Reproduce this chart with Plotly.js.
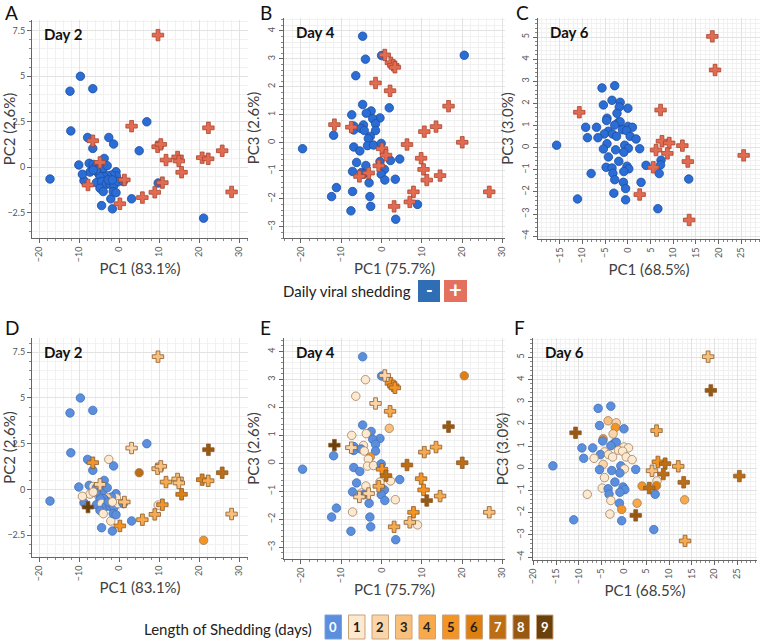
<!DOCTYPE html>
<html><head><meta charset="utf-8">
<script src="https://cdn.plot.ly/plotly-3.0.1.min.js"></script>
<style>html,body{margin:0;padding:0;background:#fff;}#chart{width:760px;height:642px;}</style>
</head><body><div id="chart"></div>
<script>
// ---------- DATA ----------
// Day 2 (PC1 vs PC2)
const day2_pc1 = [-9.7,-12.3,-6.6,-12.1,6.9,-7.9,-2.6,-1.4,-6.6,5.0,-10.1,-3.75,-17.3,-8.8,9.75,3.1,-4.4,-2.1,-1.7,21.1,-7.5,-6.5,-5.7,-4.8,-7.3,-5.2,-4.0,-3.0,-0.8,-0.7,-1.9,-3.0,-3.8,-4.8,-5.7,-4.4,-3.3,-2.3,-1.3,-0.25,1.0,-4.8,-4.0,-1.5,-0.8,-5.7,-6.5,-2.75,-1.7,-9.2,
  9.7,3.1,22.3,-6.6,9.6,10.4,25.75,11.7,14.6,14.9,20.75,22.25,15.6,-4.8,1.3,10.8,-7.8,8.9,5.8,0.17,28.1];
const day2_pc2 = [5.0,4.18,4.32,2.0,2.5,1.64,1.64,1.28,1.04,0.91,0.13,0.49,-0.64,-0.73,-0.86,-1.73,-2.1,-1.73,-2.28,-2.79,0.22,0.16,0.09,0.13,-0.26,-0.33,-0.05,0.09,-0.24,-0.47,-0.42,-0.46,-0.51,-0.51,-0.84,-0.78,-0.93,-0.93,-0.99,-0.78,-0.78,-1.15,-1.33,-1.33,-1.39,-0.15,-0.15,-0.69,-0.69,-0.38,
  7.26,2.26,2.17,1.46,1.13,1.26,0.91,0.4,0.57,0.35,0.53,0.47,-0.27,0.27,-0.69,-0.84,-0.97,-1.37,-1.66,-2.0,-1.35];
const day2_shed = [0,0,0,0,0,0,0,0,0,0,0,0,0,0,0,0,0,0,0,0,0,0,0,0,0,0,0,0,0,0,0,0,0,0,0,0,0,0,0,0,0,0,0,0,0,0,0,0,0,0,
  1,1,1,1,1,1,1,1,1,1,1,1,1,1,1,1,1,1,1,1,1];
const day2_len = [0,0,0,0,0,0,1,0,0,7,0,0,0,0,1,0,0,1,0,5,0,1,0,2,1,1,0,0,0,1,0,2,0,0,0,1,0,0,0,1,0,0,1,0,0,0,1,0,1,1,
  3,2,8,5,3,3,7,4,3,3,6,4,6,2,3,5,9,4,4,5,3];

// Day 4 (PC1 vs PC3)
const day4_pc1 = [-4.7,0,-4.0,-6.4,20.5,-4.7,1.9,-7.4,-2.6,-3.8,-0.4,-2.2,-1.5,-4.5,-6.9,-6.9,-5.1,-4.3,-1.5,-2.8,-3.3,-11.9,-19.6,-6.9,-5.4,-3.5,-2.0,-0.1,-6.2,2.2,4.5,-3.9,-0.4,0.7,-7.2,-5.0,-4.5,-0.1,0.8,3.4,-3.1,-11.2,-12.4,-7.2,-2.9,-2.7,8.9,-7.6,3.5,
  0.8,2.3,2.9,3.3,-1.5,2.1,16.6,-11.7,13.5,10.6,6.3,20.0,0.1,1.1,-0.7,9.8,10.4,14.5,11.2,-3.2,-5.5,7.9,7.0,3.1,26.7,-7.5];
const day4_pc3 = [3.81,3.12,2.99,2.40,3.13,1.37,1.25,1.0,1.14,1.06,0.89,0.86,0.68,0.64,0.6,0.46,0.51,0.44,0.44,0.23,0.15,0.27,-0.21,-0.15,-0.29,-0.1,-0.08,-0.02,-0.70,-0.63,-0.58,-0.81,-0.67,-0.95,-1.02,-1.06,-1.12,-1.12,-1.33,-1.30,-1.43,-1.6,-1.92,-1.74,-1.92,-2.27,-2.20,-2.43,-2.73,
  3.14,2.86,2.77,2.70,2.14,1.86,1.31,0.65,0.58,0.40,-0.06,0.02,-0.21,-0.44,-0.82,-0.55,-0.95,-1.17,-1.33,-1.08,-1.2,-1.75,-2.11,-2.27,-1.75,0.56];
const day4_shed = [0,0,0,0,0,0,0,0,0,0,0,0,0,0,0,0,0,0,0,0,0,0,0,0,0,0,0,0,0,0,0,0,0,0,0,0,0,0,0,0,0,0,0,0,0,0,0,0,0,
  1,1,1,1,1,1,1,1,1,1,1,1,1,1,1,1,1,1,1,1,1,1,1,1,1,1];
const day4_len = [0,0,1,1,6,0,3,1,0,1,0,0,0,1,0,0,0,1,0,5,1,0,0,0,0,1,1,0,0,1,0,1,1,0,0,1,0,0,0,1,0,0,0,1,0,0,1,0,0,
  2,5,5,5,2,4,8,9,4,4,7,7,5,7,4,5,5,4,8,2,2,5,3,4,3,2];

// Day 6 (PC1 vs PC3)
const day6_pc1 = [-5.7,-2.9,-3.5,-5.4,-1.7,-1.9,0,-2.4,-4.6,-4.7,-2.1,-1.7,-2.9,-9.3,-6.9,0,1.0,-1.2,-0.3,-4.3,-5.2,-3.4,-2.5,-8.9,-6.6,0.5,1.8,-4.6,-5.4,-0.7,0.1,-2.7,2.6,-0.9,-4.3,-15.7,-2.0,-4.8,-3.5,-0.2,0.2,4.0,7.3,7.2,6.9,-0.9,-3.3,-2.9,-8.1,-1.0,2.9,13.4,-3.1,-0.5,-11.1,-0.5,6.6,
  18.6,19.2,7.2,-10.7,7.5,9.1,12.0,6.2,8.7,13.2,25.5,5.6,2.6,13.5];
const day6_pc3 = [2.70,2.80,2.14,1.93,2.05,1.84,1.78,1.55,1.33,1.23,1.14,1.17,1.02,0.92,0.92,0.96,0.92,0.81,0.77,0.74,0.62,0.62,0.51,0.45,0.45,0.51,0.39,0.18,-0.06,0.11,-0.03,-0.1,-0.05,-0.21,-0.42,0.11,-0.62,-0.89,-0.92,-0.84,-0.96,-0.80,-0.57,-0.78,-1.17,-1.08,-1.16,-1.45,-1.17,-1.57,-1.57,-1.42,-2.06,-1.85,-2.32,-2.36,-2.76,
  5.03,3.51,1.70,1.60,0.29,0.21,0.09,-0.11,-0.26,-0.63,-0.35,-0.89,-2.12,-3.27];
const day6_shed = [0,0,0,0,0,0,0,0,0,0,0,0,0,0,0,0,0,0,0,0,0,0,0,0,0,0,0,0,0,0,0,0,0,0,0,0,0,0,0,0,0,0,0,0,0,0,0,0,0,0,0,0,0,0,0,0,0,
  1,1,1,1,1,1,1,1,1,1,1,1,1,1];
const day6_len = [0,0,3,0,2,5,0,2,5,0,0,0,0,0,0,1,1,1,1,1,0,1,1,0,1,1,1,2,0,0,1,0,0,0,1,0,0,1,0,0,0,5,1,6,0,0,0,1,1,0,4,4,1,5,0,0,0,
  3,8,4,8,5,7,4,3,7,7,7,7,8,4];

const xTitles = ['PC1 (83.1%)','PC1 (75.7%)','PC1 (68.5%)'];
const yTitles = ['PC2 (2.6%)','PC3 (2.6%)','PC3 (3.0%)'];
const dayLabels = ['Day 2','Day 4','Day 6'];
const panelLetters = ['A','B','C','D','E','F'];
const lengthCats = ['0','1','2','3','4','5','6','7','8','9'];

// ---------- STYLE ----------
const W = 760, H = 642;
const FONT = 'Lato, "Open Sans", "Noto Sans", sans-serif';
const lenColors = ['#5b8fde','#fde8d0','#fbd5a9','#f9c07c','#f7a94b','#f39424','#df7f10','#bd6d13','#985812','#6a400d'];
const lenText   = ['#ffffff','#222','#222','#222','#222','#222','#222','#ffffff','#ffffff','#ffffff'];
const blueCol = '#2b6dd6', blueLine = '#1c4d9c';
const redCol = '#e26b52', redLine = '#a9452f';

function px(x){ return x / W; }
function py(y){ return 1 - y / H; }

// plot areas in pixel coordinates [left,right,top,bottom]
const boxes = [
  [32,248,20,238],[284,505,18,238],[538,760,18,239],
  [32,248,338,557],[284,505,338,559],[533,757,338,560]
];
const xRanges = [[-21.8,32.2],[-24.2,30.6],[-19.8,29.1],[-21.8,32.2],[-24.2,30.6],[-20.1,29.4]];
const yRanges = [[-3.88,8.09],[-3.4,4.46],[-4.13,5.86],[-3.7,8.28],[-3.42,4.48],[-4.13,5.87]];
const xTick = [[10,2],[10,2],[5,1]];
const yTick = [[2.5,0.5],[1,0.2],[1,0.2]];

const days = [
  {x:day2_pc1, y:day2_pc2, s:day2_shed, l:day2_len},
  {x:day4_pc1, y:day4_pc3, s:day4_shed, l:day4_len},
  {x:day6_pc1, y:day6_pc3, s:day6_shed, l:day6_len}
];

function sel(arr, mask, v){ return arr.filter((_,i)=>mask[i]===v); }

const traces = [];
const layout = {
  width: W, height: H, margin:{l:0,r:0,t:0,b:0},
  paper_bgcolor:'#fff', plot_bgcolor:'#fff', showlegend:false,
  font:{family:FONT, color:'#404040'},
  annotations:[], shapes:[]
};

for (let p=0; p<6; p++){
  const col = p % 3;
  const d = days[col];
  const n = p+1;
  const xa = 'x' + (n===1?'':n), ya = 'y' + (n===1?'':n);
  const b = boxes[p];
  const xkey = 'xaxis' + (n===1?'':n), ykey = 'yaxis' + (n===1?'':n);
  layout[xkey] = {
    domain:[px(b[0]), px(b[1])], range:xRanges[p], anchor:ya,
    dtick:xTick[col][0], tick0:0, tickangle:-90,
    tickfont:{size:9, color:'#555', family:FONT},
    showline:true, linecolor:'#666', linewidth:1, ticks:'outside', ticklen:4, tickcolor:'#666',
    showgrid:true, gridcolor:'#e2e2e2', zeroline:false,
    minor:{dtick:xTick[col][1], showgrid:true, gridcolor:'#f1f1f1', ticks:'outside', ticklen:2, tickcolor:'#888'},
    title:{text:xTitles[col], font:{size:15, color:'#404040', family:FONT}, standoff:2}
  };
  layout[ykey] = {
    domain:[py(b[3]), py(b[2])], range:yRanges[p], anchor:xa,
    dtick:yTick[col][0], tick0:0, tickangle: col===0 ? 0 : -90,
    tickfont:{size:9, color:'#555', family:FONT},
    showline:true, linecolor:'#666', linewidth:1, ticks:'outside', ticklen:4, tickcolor:'#666',
    showgrid:true, gridcolor:'#e2e2e2', zeroline:false,
    minor:{dtick:yTick[col][1], showgrid:true, gridcolor:'#f1f1f1', ticks:'outside', ticklen:2, tickcolor:'#888'},
    title:{text:yTitles[col], font:{size:15, color:'#404040', family:FONT}, standoff:3}
  };
  const top = p < 3;
  const cx0 = sel(d.x,d.s,0), cy0 = sel(d.y,d.s,0), cl0 = sel(d.l,d.s,0);
  const cx1 = sel(d.x,d.s,1), cy1 = sel(d.y,d.s,1), cl1 = sel(d.l,d.s,1);
  traces.push({
    type:'scatter', mode:'markers', x:cx0, y:cy0, xaxis:xa, yaxis:ya, hoverinfo:'skip',
    marker:{symbol:'circle', size:8.5,
      color: top ? blueCol : cl0.map(v=>lenColors[v]),
      line:{width:0.8, color: top ? blueLine : cl0.map(v=> v===0 ? '#4270b8' : '#a08060')}}
  });
  traces.push({
    type:'scatter', mode:'markers', x:cx1, y:cy1, xaxis:xa, yaxis:ya, hoverinfo:'skip',
    marker:{symbol:'cross', size:9.5,
      color: top ? redCol : cl1.map(v=>lenColors[v]),
      line:{width:0.8, color: top ? redLine : cl1.map(v=> '#8a5a2a')}}
  });
  // Day label
  layout.annotations.push({
    xref:xa+' domain', yref:ya+' domain', x:0.045, y:0.985, xanchor:'left', yanchor:'top',
    text:'<b>'+dayLabels[col]+'</b>', showarrow:false, font:{size:15, color:'#111', family:FONT}
  });
  // Panel letter
  const letterPos = [[4,0],[259,0],[515,0],[4,315],[259,315],[513,315]][p];
  layout.annotations.push({
    xref:'paper', yref:'paper', x:px(letterPos[0]), y:py(letterPos[1]), xanchor:'left', yanchor:'top',
    text:panelLetters[p], showarrow:false, borderpad:0, font:{size:19, color:'#111', family:FONT}
  });
}

// Daily viral shedding legend
layout.annotations.push({xref:'paper', yref:'paper', x:px(413), y:py(291), xanchor:'right', yanchor:'middle',
  text:'Daily viral shedding', showarrow:false, font:{size:15, color:'#222', family:FONT}});
layout.shapes.push({type:'rect', xref:'paper', yref:'paper', x0:px(418), x1:px(440), y0:py(302), y1:py(280), fillcolor:'#2f6db5', line:{width:0}});
layout.shapes.push({type:'rect', xref:'paper', yref:'paper', x0:px(444), x1:px(467), y0:py(302), y1:py(280), fillcolor:'#e4705f', line:{width:0}});
layout.annotations.push({xref:'paper', yref:'paper', x:px(429), y:py(290), xanchor:'center', yanchor:'middle',
  text:'<b>-</b>', showarrow:false, font:{size:18, color:'#fff', family:FONT}});
layout.annotations.push({xref:'paper', yref:'paper', x:px(455.5), y:py(290), xanchor:'center', yanchor:'middle',
  text:'<b>+</b>', showarrow:false, font:{size:22, color:'#fff', family:FONT}});

// Length of shedding legend
layout.annotations.push({xref:'paper', yref:'paper', x:px(314), y:py(629), xanchor:'right', yanchor:'middle',
  text:'Length of Shedding (days)', showarrow:false, font:{size:15, color:'#222', family:FONT}});
lengthCats.forEach((c,i)=>{
  const x0 = 325 + i*23.5;
  layout.shapes.push({type:'rect', xref:'paper', yref:'paper', x0:px(x0), x1:px(x0+16.5), y0:py(639), y1:py(615),
    fillcolor:lenColors[i], line:{width:1, color: i===0 ? '#7aa0dd' : '#c9a27a'}});
  layout.annotations.push({xref:'paper', yref:'paper', x:px(x0+8.25), y:py(627), xanchor:'center', yanchor:'middle',
    text:'<b>'+c+'</b>', showarrow:false, font:{size:13, color:lenText[i], family:FONT}});
});

Plotly.newPlot('chart', traces, layout, {staticPlot:true, displayModeBar:false});
</script>
</body></html>
